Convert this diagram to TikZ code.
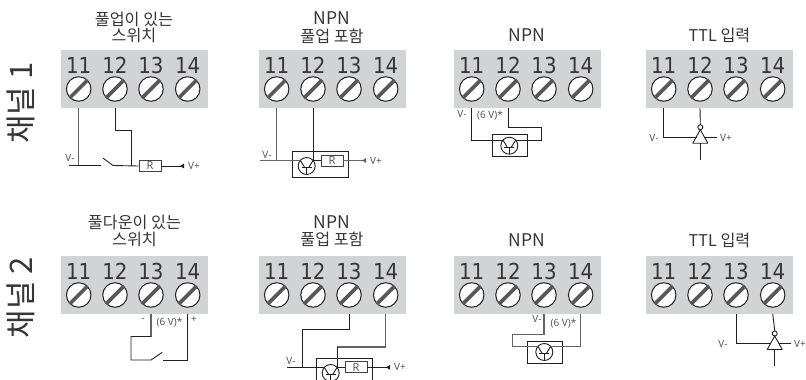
\documentclass[tikz,border=0pt]{standalone}
\usepackage{fontspec}
\usetikzlibrary{arrows.meta}
\setmainfont{Noto Sans CJK KR}
\newfontfamily\numfont{DejaVu Sans Condensed}
\newfontfamily\labelfont{Open Sans}
\definecolor{panelgray}{HTML}{D1D3D4}
\definecolor{wiregray}{HTML}{626366}
\definecolor{inkdark}{HTML}{231F20}
\definecolor{textgray}{HTML}{4D4D4F}
\tikzset{
    panel/.style={fill=panelgray, minimum width=147pt, minimum height=58pt, inner sep=0pt, outer sep=0pt, anchor=north west},
    termnum/.style={font=\numfont\fontsize{22}{22}\selectfont, text=inkdark!90, inner sep=0pt},
    screw/.style={circle, draw=inkdark, line width=1pt, fill=white, minimum size=24.5pt, inner sep=0pt},
    stripe/.style={line width=3.6pt, color=inkdark!75},
    title/.style={font=\fontsize{16.2}{17}\selectfont, text=inkdark!90, inner sep=0pt},
    latintitle/.style={font=\fontsize{17.5}{18}\selectfont, text=inkdark!90, inner sep=0pt},
    chan/.style={font=\fontsize{31}{32}\selectfont, text=inkdark!90, rotate=90, inner sep=0pt},
    vlabel/.style={font=\labelfont\fontsize{10}{11}\selectfont, text=textgray, inner sep=0pt},
    wire/.style={line width=0.9pt, color=inkdark},
    graywire/.style={line width=1.3pt, color=wiregray},
    rbox/.style={draw=inkdark!85, line width=0.9pt, fill=white, minimum width=22pt, minimum height=11pt, inner sep=0pt, font=\labelfont\fontsize{11}{11}\selectfont, text=textgray},
    npnbody/.style={circle, draw=inkdark, line width=0.9pt, minimum size=17pt, inner sep=0pt},
    casing/.style={draw=inkdark, line width=1pt, inner sep=0pt, anchor=north west},
    tipleft/.style={-{Triangle[reversed,length=4pt,width=4.5pt]}},
}
% terminal block: name, left, top
\newcommand{\termblock}[3]{
    \node[panel] (#1) at (#2,#3) {};
    \foreach \n/\dx in {11/17.7,12/54,13/90,14/126.7}{
        \node[termnum] (#1n\n) at (#2+\dx,#3+15) {\n};
        \node[screw] (#1s\n) at (#2+\dx,#3+39) {};
        \draw[stripe] (#1s\n.south west) -- (#1s\n.north east);
        \coordinate (#1w\n) at (#1s\n |- #1.south);
    }
}
% transistor symbol: name, x, y
\newcommand{\npnsym}[3]{
    \node[npnbody] (#1) at (#2,#3) {};
    \draw[wire] (#2-6.3,#3-5.5) -- (#2-2,#3+1.5) (#2+6.3,#3-5.5) -- (#2+2,#3+1.5);
    \draw[wire] (#2-5,#3+1.5) -- (#2+5,#3+1.5) (#2,#3+1.5) -- (#2,#3+8.5);
}
% inverter symbol: name, x, y of the apex
\newcommand{\invsym}[3]{
    \node[circle, draw=inkdark, line width=0.9pt, fill=white, minimum size=5pt, inner sep=0pt] (#1b) at (#2,#3-2.5) {};
    \coordinate (#1t) at (#2,#3);
    \coordinate (#1l) at (#2-7.5,#3+13.5);
    \coordinate (#1r) at (#2+7.5,#3+13.5);
    \coordinate (#1m) at (#2,#3+13.5);
    \draw[wire, line join=round] (#1t) -- (#1l) -- (#1r) -- cycle;
}
\begin{document}
\begin{tikzpicture}[x=1pt,y=-1pt]
    \clip (0,0) rectangle (806,380);
    % Channel labels
    \node[chan] (chanone) at (21,103) {채널 1};
    \node[chan] (chantwo) at (21,297.5) {채널 2};
    % Terminal blocks
    \termblock{pa}{61}{50}
    \termblock{pb}{259}{50}
    \termblock{pc}{454}{50}
    \termblock{pd}{646}{50}
    \termblock{pe}{61}{256}
    \termblock{pf}{259}{256}
    \termblock{pg}{454}{256}
    \termblock{ph}{646}{256}
    % Titles
    \node[title] (tapull) at (134,19) {풀업이 있는};
    \node[title] (taswitch) at (134,35) {스위치};
    \node[latintitle] (tbnpn) at (332,18) {NPN};
    \node[title] (tbpull) at (332,36) {풀업 포함};
    \node[latintitle] (tcnpn) at (527,35) {NPN};
    \node[title] (tdttl) at (719.5,35) {TTL 입력};
    \node[title] (tepull) at (134.5,222) {풀다운이 있는};
    \node[title] (teswitch) at (134.5,239) {스위치};
    \node[latintitle] (tfnpn) at (332,222) {NPN};
    \node[title] (tfpull) at (332,239) {풀업 포함};
    \node[latintitle] (tgnpn) at (527,240) {NPN};
    \node[title] (thttl) at (719.5,240) {TTL 입력};

    % Panel a: switch with pull-up
    \node[rbox] (ra) at (150,166) {R};
    \coordinate (aleft) at (69,165.5);
    \coordinate (aopen) at (101,165.5);
    \coordinate (ablade) at (103,158);
    \coordinate (ahinge) at (113,165.5);
    \coordinate (abend) at (131,130);
    \coordinate (aarrow) at (184,166);
    \draw[graywire] (paw11) -- (paw11 |- aleft);
    \draw[wire] (aleft) -- (aopen) (ablade) -- (ahinge) -- (ra.west);
    \draw[wire] (paw12) |- (abend) -- (abend |- ra.west);
    \draw[wire, tipleft] (ra.east) -- (aarrow);
    \node[vlabel] (avm) at (70,158) {V-};
    \node[vlabel] (avp) at (194,166) {V+};

    % Panel b: NPN with pull-up
    \node[casing, minimum width=56pt, minimum height=25.5pt] (caseb) at (292,151.3) {};
    \npnsym{qb}{306.7}{166}
    \node[rbox] (rb) at (332,160.5) {R};
    \coordinate (bleft) at (260,160.5);
    \coordinate (barrow) at (366,160.5);
    \coordinate (bcoll) at (313,160.5);
    \draw[graywire] (pbw11) -- (pbw11 |- bleft);
    \draw[graywire] (bleft) -- (300.4,160.5);
    \draw[wire] (pbw12) -- (bcoll) -- (rb.west);
    \draw[graywire, tipleft] (rb.east) -- (barrow);
    \node[vlabel] (bvm) at (267,155) {V-};
    \node[vlabel] (bvp) at (376,161) {V+};

    % Panel c: NPN
    \node[casing, minimum width=35pt, minimum height=22pt] (casec) at (491.7,134.3) {};
    \npnsym{qc}{509.3}{145.7}
    \coordinate (cleft) at (503,140.2);
    \coordinate (cright) at (515.6,140.2);
    \coordinate (cbend) at (541.7,127.5);
    \draw[wire] (pcw11) |- (cleft);
    \draw[wire] (cright) -| (cbend) -| (pcw12);
    \node[vlabel] (cvm) at (462,114) {V-};
    \node[vlabel] (csix) at (490,115) {(6 V)*};

    % Panel d: TTL input
    \invsym{id}{700.3}{129.7}
    \coordinate (dout) at (716.7,137);
    \coordinate (dleft) at (696.5,137);
    \coordinate (dbottom) at (700.3,160);
    \draw[wire] (pdw11) |- (dleft);
    \draw[wire] (pdw12) -- (idb.north);
    \draw[wire] (704,137) -- (dout);
    \draw[wire] (idm) -- (dbottom);
    \node[vlabel] (dvm) at (654,138) {V-};
    \node[vlabel] (dvp) at (726,138) {V+};

    % Panel e: switch with pull-down
    \coordinate (ebend) at (131,336.5);
    \coordinate (ehinge) at (151,360);
    \coordinate (eblade) at (162.3,352.3);
    \coordinate (eopen) at (163,360);
    \draw[graywire] (pew13) -- (pew13 |- ebend);
    \draw[wire] (pew13 |- ebend) -| (ebend) -- (ebend |- ehinge) -- (ehinge) -- (eblade);
    \draw[wire] (eopen) -| (pew14);
    \node[vlabel] (evm) at (143,320) {-};
    \node[vlabel] (esix) at (169.5,322) {(6 V)*};
    \node[vlabel] (evp) at (194,320) {+};

    % Panel f: NPN with pull-up
    \node[casing, minimum width=55.5pt, minimum height=25.5pt] (casef) at (316,358.3) {};
    \npnsym{qf}{330.7}{373}
    \node[rbox] (rf) at (356,367.3) {R};
    \coordinate (fleft) at (287,367.3);
    \coordinate (fone) at (302.3,329);
    \coordinate (ftwo) at (337,347);
    \coordinate (fcoll) at (337,367.3);
    \coordinate (farrow) at (390,367.3);
    \draw[wire] (pfw13) |- (fone) -- (fone |- fleft);
    \draw[graywire] (pfw14) |- (ftwo);
    \draw[wire] (ftwo) -- (fcoll) -- (rf.west);
    \draw[wire] (fleft) -- (324.4,367.3);
    \draw[wire, tipleft] (rf.east) -- (farrow);
    \node[vlabel] (fvm) at (291,361) {V-};
    \node[vlabel] (fvp) at (400,367) {V+};

    % Panel g: NPN
    \node[casing, minimum width=35.3pt, minimum height=22.3pt] (caseg) at (526.7,340.7) {};
    \npnsym{qg}{544.3}{352}
    \coordinate (gbend) at (512.3,334.3);
    \coordinate (gleft) at (538,346.8);
    \coordinate (gright) at (550.6,346.8);
    \draw[graywire] (pgw13) |- (gbend) |- (gleft);
    \draw[graywire] (gright) -| (pgw14);
    \node[vlabel] (gvm) at (537,319) {V-};
    \node[vlabel] (gsix) at (563.5,323) {(6 V)*};

    % Panel h: TTL input
    \invsym{ih}{774.7}{336}
    \coordinate (hout) at (791,343.3);
    \coordinate (hleft) at (771,343.3);
    \coordinate (hbottom) at (774.7,365.7);
    \draw[wire] (phw13) |- (hleft);
    \draw[wire] (phw14) -- (ihb.north);
    \draw[wire] (778.5,343.3) -- (hout);
    \draw[wire] (ihm) -- (hbottom);
    \node[vlabel] (hvm) at (723,344) {V-};
    \node[vlabel] (hvp) at (800,344) {V+};
\end{tikzpicture}
\end{document}
